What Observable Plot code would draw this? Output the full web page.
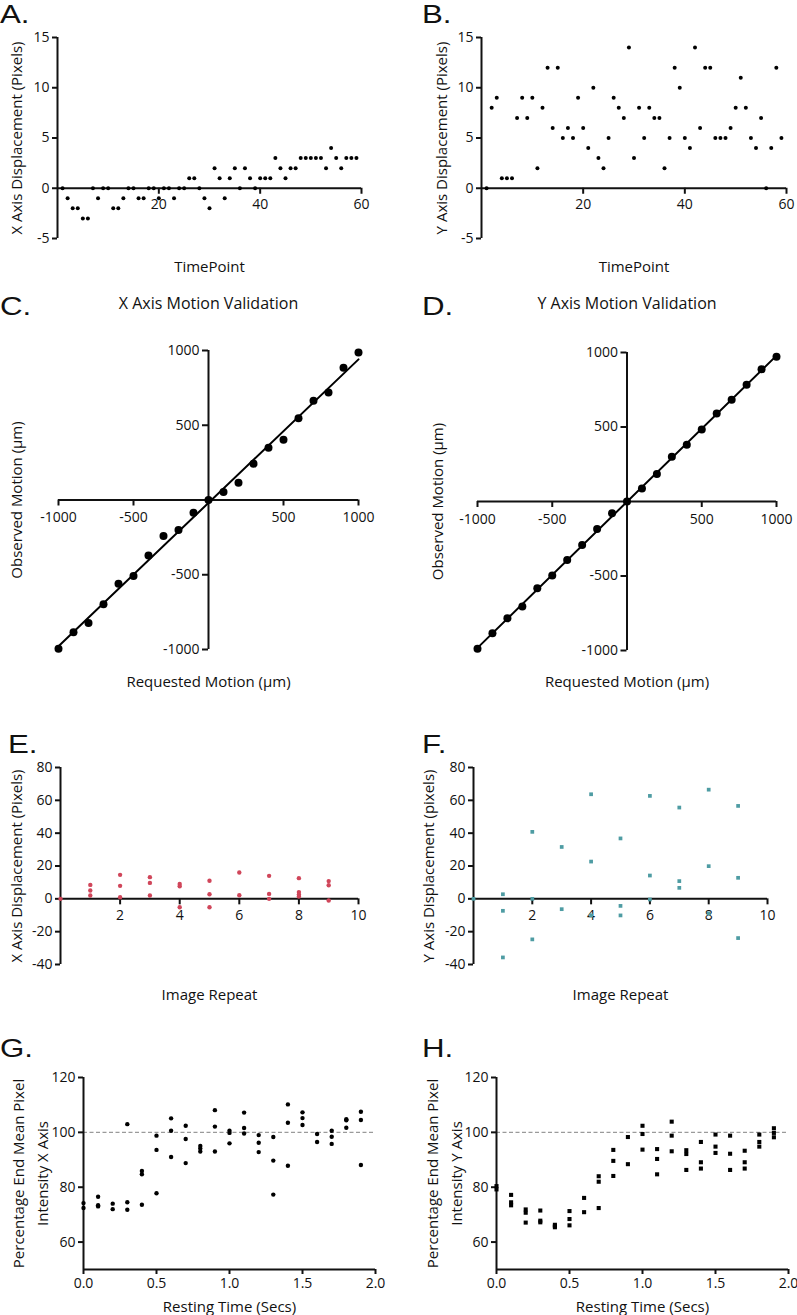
<!DOCTYPE html>
<html><head><meta charset="utf-8">
<script src="https://cdn.jsdelivr.net/npm/d3@7"></script>
<script src="https://cdn.jsdelivr.net/npm/@observablehq/plot@0.6"></script>
<style>
body{margin:0;background:#fff;}
#fig{position:relative;width:797px;height:1315px;overflow:hidden;background:#fff;}
#fig svg{position:absolute;}
.letter{position:absolute;font-family:"Liberation Sans",Arial,sans-serif;font-size:25px;line-height:1;color:#111;transform:scaleX(1.25);transform-origin:left top;}
</style></head><body><div id="fig"></div>
<script>
// ---------- DATA ----------
const timePoint = [1,2,3,4,5,6,7,8,9,10,11,12,13,14,15,16,17,18,19,20,21,22,23,24,25,26,27,28,29,30,31,32,33,34,35,36,37,38,39,40,41,42,43,44,45,46,47,48,49,50,51,52,53,54,55,56,57,58,59];
const xDisplacement = [0,-1,-2,-2,-3,-3,0,-1,0,0,-2,-2,-1,0,0,-1,-1,0,0,-1,0,0,-1,0,0,1,1,0,-1,-2,2,1,-1,1,2,0,2,1,0,1,1,1,3,2,1,2,2,3,3,3,3,3,2,4,3,2,3,3,3];
const yDisplacement = [0,8,9,1,1,1,7,9,7,9,2,8,12,6,12,5,6,5,9,6,4,10,3,2,5,9,8,7,14,3,8,5,8,7,7,2,5,12,10,5,4,14,6,12,12,5,5,5,6,8,11,8,5,4,7,0,4,12,5];
const timeTicksX = [20,40,60];
const displacementTicksY = [-5,0,5,10,15];

const requestedMotion = [-1000,-900,-800,-700,-600,-500,-400,-300,-200,-100,0,100,200,300,400,500,600,700,800,900,1000];
const observedMotionX = [-995,-884,-822,-697,-561,-508,-372,-241,-200,-85,0,53,116,243,350,403,546,664,719,884,987];
const observedMotionY = [-989,-884,-784,-704,-583,-497,-392,-292,-184,-79,0,88,184,301,381,484,591,683,783,888,971];
const motionTicks = [-1000,-500,500,1000];

const repeatX = [0,1,1,1,2,2,2,3,3,3,4,4,4,5,5,5,6,6,7,7,7,8,8,8,8,9,9,9];
const repeatXValue = [0,8.5,5.1,2.0,14.6,7.9,1.0,13.2,9.7,2.0,9.1,7.7,-5.1,11.0,2.8,-5.1,16.0,2.2,14.0,3.0,0,12.6,4.1,2.6,1.4,10.8,8.3,-1.0];
const repeatY = [0,1,1,1,2,2,2,3,3,4,4,4,5,5,5,6,6,6,7,7,7,8,8,8,9,9,9];
const repeatYValue = [0,2.8,-7.3,-35.7,40.8,0,-24.7,31.6,-6.3,63.7,22.7,-10.1,36.8,-4.3,-10.1,62.7,14.2,-0.4,55.6,10.8,6.7,66.5,19.9,-8.9,56.6,12.8,-23.9];
const repeatTicksX = [2,4,6,8,10];
const repeatTicksY = [-40,-20,0,20,40,60,80];

const restTimeX = [0,0,0.1,0.1,0.1,0.2,0.2,0.3,0.3,0.3,0.4,0.4,0.4,0.5,0.5,0.5,0.6,0.6,0.6,0.7,0.7,0.7,0.8,0.8,0.8,0.9,0.9,0.9,1.0,1.0,1.0,1.1,1.1,1.1,1.2,1.2,1.2,1.3,1.3,1.3,1.4,1.4,1.4,1.5,1.5,1.5,1.6,1.6,1.7,1.7,1.7,1.8,1.8,1.8,1.9,1.9,1.9];
const intensityX = [74.2,72.4,76.5,73.4,73.0,74.0,72.0,103.0,74.5,71.8,85.9,84.7,73.6,98.8,93.6,77.8,105.1,100.6,91.0,102.4,97.6,88.8,95.0,94.1,93.0,108.1,102.1,93.0,100.6,99.8,96.0,107.2,101.6,99.6,99.0,96.2,92.8,98.3,89.7,77.3,110.2,103.5,87.8,107.3,105.2,102.7,99.4,96.5,100.6,98.4,95.8,104.8,104.4,101.7,107.5,104.5,88.1];
const restTimeY = [0,0,0.1,0.1,0.1,0.2,0.2,0.2,0.3,0.3,0.3,0.4,0.4,0.4,0.5,0.5,0.5,0.6,0.6,0.7,0.7,0.7,0.8,0.8,0.8,0.9,0.9,1.0,1.0,1.0,1.1,1.1,1.1,1.2,1.2,1.2,1.3,1.3,1.3,1.4,1.4,1.4,1.5,1.5,1.5,1.6,1.6,1.6,1.7,1.7,1.7,1.8,1.8,1.8,1.9,1.9,1.9];
const intensityY = [80.4,79.2,77.2,74.5,73.4,71.9,70.7,67.1,71.5,67.8,67.2,66.3,65.8,65.4,71.3,68.4,66.1,76.1,70.9,84.0,82.0,72.4,93.6,89.6,84.1,98.3,88.4,102.4,99.4,93.7,93.9,90.3,84.7,103.9,98.8,93.1,93.5,92.1,86.3,96.5,89.1,86.8,99.2,94.8,92.5,98.8,92.2,86.3,93.3,89.1,86.8,99.2,96.5,94.8,101.5,99.8,98.2];
const restTicksX = [0,0.5,1.0,1.5,2.0];
const intensityTicksY = [60,80,100,120];
const intensityDomain = [50,120];
const fullIntensity = 100;

// ---------- STYLE ----------
const fig = document.getElementById("fig");
const FONT = '"Open Sans", sans-serif';
const style = {fontFamily: FONT, fontSize: "14px", color: "#111", background: "transparent", overflow: "visible"};
const AXW = 2, TICK = 14, LAB = 15;
const fmt = d => String(d);

function place(svg, left, top) { svg.style.left = left + "px"; svg.style.top = top + "px"; fig.appendChild(svg); }
function letter(t, left, baseline) {
  const d = document.createElement("div");
  d.className = "letter"; d.textContent = t;
  d.style.left = left + "px"; d.style.top = (baseline - 21) + "px";
  fig.appendChild(d);
}
const pts = (xs, ys) => xs.map((x, i) => ({x, y: ys[i]}));
const yLabel = (t, dx, extra = {}) => Plot.text([t], {frameAnchor: "left", rotate: -90, dx, textAnchor: "middle", lineAnchor: "middle", fontSize: LAB, ...extra});
const xLabel = (t, dy) => Plot.text([t], {frameAnchor: "bottom", dy, textAnchor: "middle", lineAnchor: "middle", fontSize: LAB});

// Time-series panel (A, B)
function timePanel(values, ylabel, m, ylabDx) {
  return Plot.plot({
    width: m.w, height: 280, marginLeft: m.l, marginRight: m.r, marginTop: 37, marginBottom: 42, style,
    x: {domain: [0, 60], axis: null},
    y: {domain: [-5, 15]},
    marks: [
      Plot.ruleX([0], {strokeWidth: AXW}),
      Plot.axisY(displacementTicksY, {tickSize: 5, tickPadding: 3, strokeWidth: AXW, fontSize: TICK, tickFormat: fmt, label: null}),
      Plot.ruleY([0], {x1: 0, x2: 60, strokeWidth: AXW}),
      Plot.ruleX(timeTicksX, {x: d => d, y1: 0, y2: 0, insetBottom: -6, strokeWidth: AXW}),
      Plot.text(timeTicksX, {x: d => d, y: 0, dy: 16, text: fmt, fontSize: TICK}),
      Plot.dot(pts(timePoint, values), {x: "x", y: "y", r: 2, fill: "#000"}),
      yLabel(ylabel, ylabDx),
      xLabel("TimePoint", 29)
    ]
  });
}
place(timePanel(xDisplacement, "X Axis Displacement (Pixels)", {w: 400, l: 57, r: 39}, -40), 0, 0);
place(timePanel(yDisplacement, "Y Axis Displacement (Pixels)", {w: 397, l: 81, r: 11}, -39), 400, 0);

// Motion validation panel (C, D)
function motionPanel(observed, title, m, ylabDx) {
  const data = pts(requestedMotion, observed);
  return Plot.plot({
    width: m.w, height: 410, marginLeft: m.l, marginRight: m.r, marginTop: m.t, marginBottom: m.b, style,
    x: {domain: [-1000, 1000], axis: null},
    y: {domain: [-1000, 1000], axis: null},
    marks: [
      Plot.ruleY([0], {x1: -1000, x2: 1000, strokeWidth: AXW}),
      Plot.ruleX([0], {y1: -1000, y2: 1000, strokeWidth: AXW}),
      Plot.ruleX(motionTicks, {x: d => d, y1: 0, y2: 0, insetBottom: -6, strokeWidth: AXW}),
      Plot.ruleY(motionTicks, {y: d => d, x1: 0, x2: 0, insetLeft: -6, strokeWidth: AXW}),
      Plot.text(motionTicks, {x: d => d, y: 0, dy: 18, text: fmt, fontSize: TICK}),
      Plot.text(motionTicks, {x: 0, y: d => d, dx: -9, textAnchor: "end", text: fmt, fontSize: TICK}),
      Plot.linearRegressionY(data, {x: "x", y: "y", ci: 0, stroke: "#000", strokeWidth: 2}),
      Plot.dot(data, {x: "x", y: "y", r: 4, fill: "#000"}),
      Plot.text([title], {frameAnchor: "top", dy: m.titleDy, lineAnchor: "middle", textAnchor: "middle", fontSize: 16}),
      yLabel("Observed Motion (\u00b5m)", ylabDx),
      xLabel("Requested Motion (\u00b5m)", m.xlabDy)
    ]
  });
}
place(motionPanel(observedMotionX, "X Axis Motion Validation", {w: 400, l: 58, r: 42, t: 70, b: 41, titleDy: -47, xlabDy: 33}, -41), 0, 280);
place(motionPanel(observedMotionY, "Y Axis Motion Validation", {w: 397, l: 77, r: 21, t: 72, b: 40, titleDy: -49, xlabDy: 32}, -39), 400, 280);

// Image repeat panel (E, F)
function repeatPanel(xs, ys, ylabel, color, symbol, r, m, ylabDx) {
  return Plot.plot({
    width: m.w, height: 330, marginLeft: m.l, marginRight: m.r, marginTop: 87, marginBottom: 46, style,
    x: {domain: [0, 10], axis: null},
    y: {domain: [-40, 80]},
    marks: [
      Plot.ruleX([0], {strokeWidth: AXW}),
      Plot.axisY(repeatTicksY, {tickSize: 5, tickPadding: 3, strokeWidth: AXW, fontSize: TICK, tickFormat: fmt, label: null}),
      Plot.ruleY([0], {x1: 0, x2: 10, strokeWidth: AXW}),
      Plot.ruleX(repeatTicksX, {x: d => d, y1: 0, y2: 0, insetBottom: -6, strokeWidth: AXW}),
      Plot.text(repeatTicksX, {x: d => d, y: 0, dy: 17, text: fmt, fontSize: TICK}),
      Plot.dot(pts(xs, ys), {x: "x", y: "y", r, symbol, fill: color, stroke: "none"}),
      yLabel(ylabel, ylabDx),
      xLabel("Image Repeat", 31)
    ]
  });
}
place(repeatPanel(repeatX, repeatXValue, "X Axis Displacement (Pixels)", "#d0465a", "circle", 2.2, {w: 400, l: 60, r: 42}, -43), 0, 680);
place(repeatPanel(repeatY, repeatYValue, "Y Axis Displacement (pixels)", "#4e9ca3", "square", 2.1, {w: 397, l: 73, r: 30}, -44), 400, 680);

// Resting time panel (G, H)
function restPanel(xs, ys, ylabel, symbol, r, m, ylabDx) {
  return Plot.plot({
    width: m.w, height: 305, marginLeft: m.l, marginRight: m.r, marginTop: 67, marginBottom: 46, style,
    x: {domain: [0, 2]},
    y: {domain: intensityDomain},
    marks: [
      Plot.ruleY([fullIntensity], {stroke: "#9a9a9a", strokeWidth: 1.2, strokeDasharray: "4,2.5"}),
      Plot.ruleX([0], {strokeWidth: AXW}),
      Plot.ruleY([intensityDomain[0]], {strokeWidth: AXW}),
      Plot.axisY(intensityTicksY, {tickSize: 5, tickPadding: 3, strokeWidth: AXW, fontSize: TICK, tickFormat: fmt, label: null}),
      Plot.axisX(restTicksX, {tickSize: 5, tickPadding: 4, strokeWidth: AXW, fontSize: TICK, tickFormat: d3.format(".1f"), label: null}),
      Plot.dot(pts(xs, ys), {x: "x", y: "y", r, symbol, fill: "#000", stroke: "none"}),
      yLabel(ylabel, ylabDx, {lineHeight: 1.55}),
      xLabel("Resting Time (Secs)", 38)
    ]
  });
}
place(restPanel(restTimeX, intensityX, "Percentage End Mean Pixel\nIntensity X Axis", "circle", 2.2, {w: 400, l: 83, r: 25}, -55), 0, 1010);
place(restPanel(restTimeY, intensityY, "Percentage End Mean Pixel\nIntensity Y Axis", "square", 2.3, {w: 397, l: 96, r: 9}, -54), 400, 1010);

// Panel letters
letter("A.", 0, 23); letter("B.", 422, 23);
letter("C.", 0, 315); letter("D.", 422, 315);
letter("E.", 8, 753); letter("F.", 422, 753);
letter("G.", 0, 1057); letter("H.", 422, 1057);
</script></body></html>
